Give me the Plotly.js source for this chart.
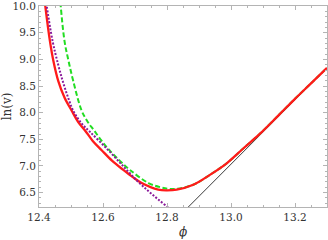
<!DOCTYPE html>
<html><head><meta charset="utf-8">
<script src="https://cdn.plot.ly/plotly-3.0.1.min.js"></script>
<style>html,body{margin:0;padding:0;background:#fff;}#chart{width:328px;height:240px;}</style>
</head><body><div id="chart"></div>
<script>
// Red solid curve
const redPhi = [12.414, 12.4197, 12.4344, 12.4447, 12.4603, 12.48, 12.5022, 12.522, 12.5438, 12.568, 12.5959, 12.628, 12.6634, 12.692, 12.7209, 12.7728, 12.80, 12.8303, 12.8822, 12.934, 12.9866, 13.0384, 13.0906, 13.15, 13.20, 13.25, 13.30];
const redV   = [10.30, 10.0, 9.333, 8.981, 8.593, 8.28, 8.037, 7.83, 7.667, 7.47, 7.296, 7.10, 6.926, 6.795, 6.680, 6.556, 6.543, 6.556, 6.648, 6.833, 7.05, 7.328, 7.606, 7.96, 8.26, 8.55, 8.84];
// Green dashed curve
const greenPhi = [12.463, 12.4678, 12.480, 12.492, 12.507, 12.5334, 12.552, 12.572, 12.596, 12.620, 12.652, 12.684, 12.742, 12.78, 12.81, 12.85, 12.89, 12.934, 12.9866, 13.0384, 13.0906, 13.15, 13.20, 13.25, 13.30];
const greenV   = [10.35, 10.0, 9.333, 8.981, 8.593, 8.037, 7.83, 7.667, 7.47, 7.296, 7.10, 6.926, 6.680, 6.600, 6.568, 6.590, 6.670, 6.833, 7.05, 7.328, 7.606, 7.96, 8.26, 8.55, 8.84];
// Purple dotted curve
const purplePhi = [12.418, 12.4241, 12.4428, 12.46, 12.4741, 12.49, 12.507, 12.533, 12.5594, 12.6166, 12.6688, 12.7103, 12.7416, 12.7728, 12.804, 12.82];
const purpleV   = [10.25, 10.0, 9.333, 8.90, 8.593, 8.30, 8.037, 7.80, 7.640, 7.296, 6.96, 6.70, 6.53, 6.37, 6.217, 6.12];
// Black thin asymptote
const blackPhi = [12.85, 13.30];
const blackV   = [6.13, 8.84];

const xTicks = [12.4, 12.6, 12.8, 13.0, 13.2];
const yTicks = [6.5, 7.0, 7.5, 8.0, 8.5, 9.0, 9.5, 10.0];

const serif = '"DejaVu Serif", serif';

const traces = [
  {x: blackPhi, y: blackV, mode: 'lines', line: {color: '#222222', width: 0.9}, hoverinfo: 'skip'},
  {x: greenPhi, y: greenV, mode: 'lines', line: {color: '#22dd22', width: 2, dash: '5px,2.5px', shape: 'spline', smoothing: 1}},
  {x: redPhi, y: redV, mode: 'lines', line: {color: '#ff1a1a', width: 2.3, shape: 'spline', smoothing: 1}},
  {x: purplePhi, y: purpleV, mode: 'lines', line: {color: '#8a1a9a', width: 2, dash: '2px,1.6px', shape: 'spline', smoothing: 1}}
];

const axisCommon = {
  showline: true, linecolor: '#b4b4b4', linewidth: 1, mirror: 'allticks',
  ticks: 'inside', ticklen: 4, tickcolor: '#b4b4b4', tickwidth: 1,
  showgrid: false, zeroline: false,
  ticklabeloverflow: 'allow',
  tickfont: {family: serif, size: 10.5, color: '#333333'},
  tickformat: '.1f'
};

const layout = {
  width: 328, height: 240,
  margin: {l: 39, r: 1, t: 6, b: 33},
  paper_bgcolor: '#ffffff', plot_bgcolor: '#ffffff',
  showlegend: false,
  font: {family: serif},
  xaxis: Object.assign({}, axisCommon, {
    range: [12.4, 13.3], tickvals: xTicks,
    minor: {dtick: 0.05, tick0: 12.4, ticks: 'inside', ticklen: 2, tickcolor: '#b4b4b4', showgrid: false},
    title: {text: '<i>ϕ</i>', font: {family: serif, size: 12, color: '#333333'}, standoff: 6}
  }),
  yaxis: Object.assign({}, axisCommon, {
    range: [6.23, 10.002], tickvals: yTicks,
    minor: {dtick: 0.1, tick0: 6.0, ticks: 'inside', ticklen: 2, tickcolor: '#b4b4b4', showgrid: false},
    title: {text: 'ln(v)', font: {family: serif, size: 12, color: '#333333'}, standoff: 4}
  })
};

Plotly.newPlot('chart', traces, layout, {displayModeBar: false, staticPlot: true});
</script>
</body></html>
